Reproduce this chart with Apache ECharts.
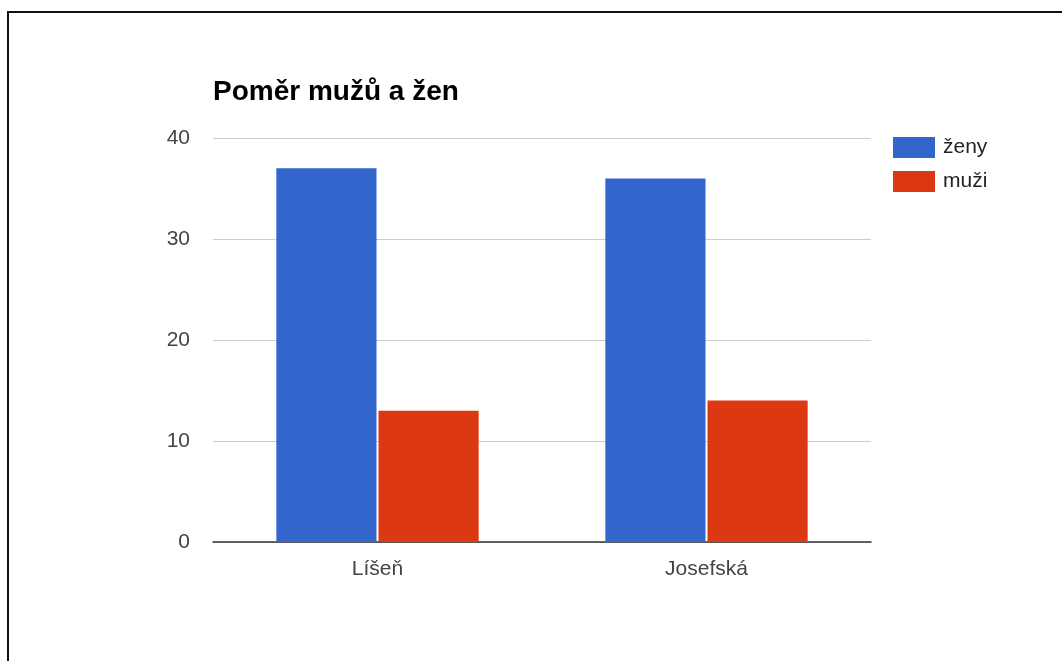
<!DOCTYPE html>
<html>
<head>
<meta charset="utf-8">
<script src="https://cdn.jsdelivr.net/npm/echarts@6/dist/echarts.min.js"></script>
<style>
html,body{margin:0;padding:0;background:#fff;}
#wrap{position:relative;width:1062px;height:661px;overflow:hidden;}
#frame{position:absolute;left:7px;top:11px;width:1100px;height:700px;border-top:2px solid #111;border-left:2px solid #111;box-sizing:border-box;}
#chart{position:absolute;left:0;top:0;width:1062px;height:661px;}
</style>
</head>
<body>
<div id="wrap"><div id="frame"></div><div id="chart"></div></div>
<script>
const titleText = 'Poměr mužů a žen';
const categories = ['Líšeň', 'Josefská'];
const seriesNames = ['ženy', 'muži'];
const zeny = [37, 36];
const muzi = [13, 14];
const yTicks = [0, 10, 20, 30, 40];

const chart = echarts.init(document.getElementById('chart'), null, {renderer: 'canvas'});
const font = '"Liberation Sans", Arial, sans-serif';
chart.setOption({
  animation: false,
  backgroundColor: 'transparent',
  title: {
    text: titleText,
    left: 213, top: 78, padding: 0,
    textStyle: {fontFamily: font, fontSize: 28, fontWeight: 'bold', color: '#000'}
  },
  legend: {
    orient: 'vertical',
    left: 893, top: 137, padding: 0,
    itemWidth: 42, itemHeight: 21,
    itemGap: 13,
    icon: 'rect',
    textStyle: {fontFamily: font, fontSize: 21, color: '#222', padding: [2, 0, 0, 3]},
    data: seriesNames
  },
  grid: {left: 213, right: 191, top: 138, bottom: 119, containLabel: false},
  xAxis: {
    type: 'category',
    data: categories,
    axisLine: {lineStyle: {color: '#333', width: 1.5}},
    axisTick: {show: false},
    axisLabel: {fontFamily: font, fontSize: 21, color: '#444', margin: 17}
  },
  yAxis: {
    type: 'value',
    min: yTicks[0], max: yTicks[yTicks.length - 1], interval: 10,
    axisLine: {show: false},
    axisTick: {show: false},
    splitLine: {lineStyle: {color: '#cccccc', width: 1}},
    axisLabel: {fontFamily: font, fontSize: 21, color: '#444', margin: 23}
  },
  series: [
    {name: seriesNames[0], type: 'bar', data: zeny, barGap: '2%', barCategoryGap: '38.5%',
     itemStyle: {color: '#3366cc'}},
    {name: seriesNames[1], type: 'bar', data: muzi, barGap: '2%', barCategoryGap: '38.5%',
     itemStyle: {color: '#dc3912'}}
  ]
});
</script>
</body>
</html>
